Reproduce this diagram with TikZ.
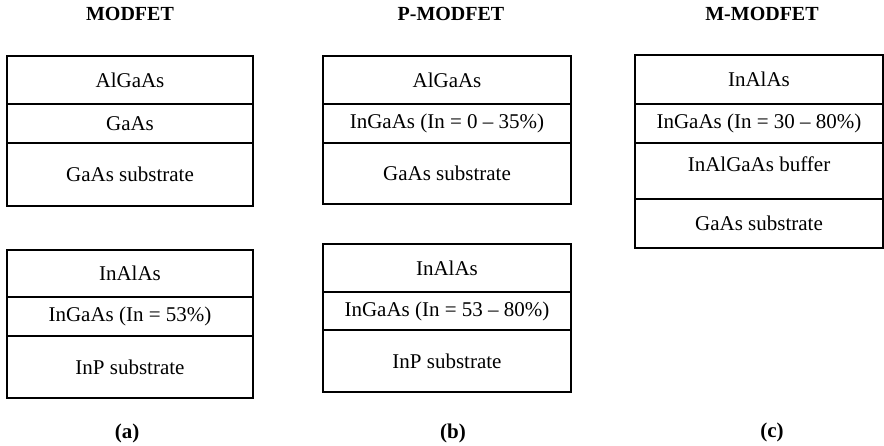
\documentclass[tikz,border=0pt]{standalone}
\usepackage{fontspec}
\setmainfont{Liberation Serif}
\usepackage{tikz}

\begin{document}
\begin{tikzpicture}[x=0.5pt, y=-0.5pt,
    font=\fontsize{10.5}{12}\selectfont,
    layer/.style={draw, line width=0.6pt, inner sep=0pt, outer sep=0pt,
                  minimum width=124pt, align=center},
    title/.style={font=\fontsize{10}{12}\selectfont\bfseries},
    tag/.style={font=\fontsize{10.5}{12}\selectfont\bfseries}]
  \useasboundingbox (0,0) rectangle (884,445);
  % headings
  \node[title] (ta) at (130,14) {MODFET};
  \node[title] (tb) at (451,14) {P-MODFET};
  \node[title] (tc) at (762,14) {M-MODFET};
  % (a) MODFET on GaAs and on InP
  \node[layer, minimum width=123pt, minimum height=24pt]   (a1) at (130,80)    {AlGaAs};
  \node[layer, minimum width=123pt, minimum height=19.5pt] (a2) at (130,123.5) {GaAs};
  \node[layer, minimum width=123pt, minimum height=31.5pt] (a3) at (130,174.5) {GaAs substrate};
  \node[layer, minimum width=123pt, minimum height=23.5pt] (a4) at (130,273.5) {InAlAs};
  \node[layer, minimum width=123pt, minimum height=19.5pt] (a5) at (130,316.5) {InGaAs (In = 53\%)};
  \node[layer, minimum width=123pt, minimum height=31pt]   (a6) at (130,367)   {InP substrate};
  % (b) pseudomorphic
  \node[layer, minimum height=24pt]   (b1) at (447,80)    {AlGaAs};
  \node[layer, minimum height=19.5pt] (b2) at (447,123.5) {InGaAs (In = 0 -- 35\%)};
  \node[layer, minimum height=30.5pt] (b3) at (447,173.5) {GaAs substrate};
  \node[layer, minimum height=24pt]   (b4) at (447,268)   {InAlAs};
  \node[layer, minimum height=19pt]   (b5) at (447,311)   {InGaAs (In = 53 -- 80\%)};
  \node[layer, minimum height=31pt]   (b6) at (447,361)   {InP substrate};
  % (c) metamorphic
  \node[layer, minimum height=24.5pt] (c1) at (759,79.5)  {InAlAs};
  \node[layer, minimum height=19.5pt] (c2) at (759,123.5) {InGaAs (In = 30 -- 80\%)};
  \node[layer, minimum height=28pt]   (c3) at (759,171)   {\raisebox{3.5pt}[\height][\depth]{InAlGaAs buffer}};
  \node[layer, minimum height=24.5pt] (c4) at (759,223.5) {GaAs substrate};
  % captions
  \node[tag] (la) at (127,433) {(a)};
  \node[tag] (lb) at (453,433) {(b)};
  \node[tag] (lc) at (772,432) {(c)};
\end{tikzpicture}
\end{document}
